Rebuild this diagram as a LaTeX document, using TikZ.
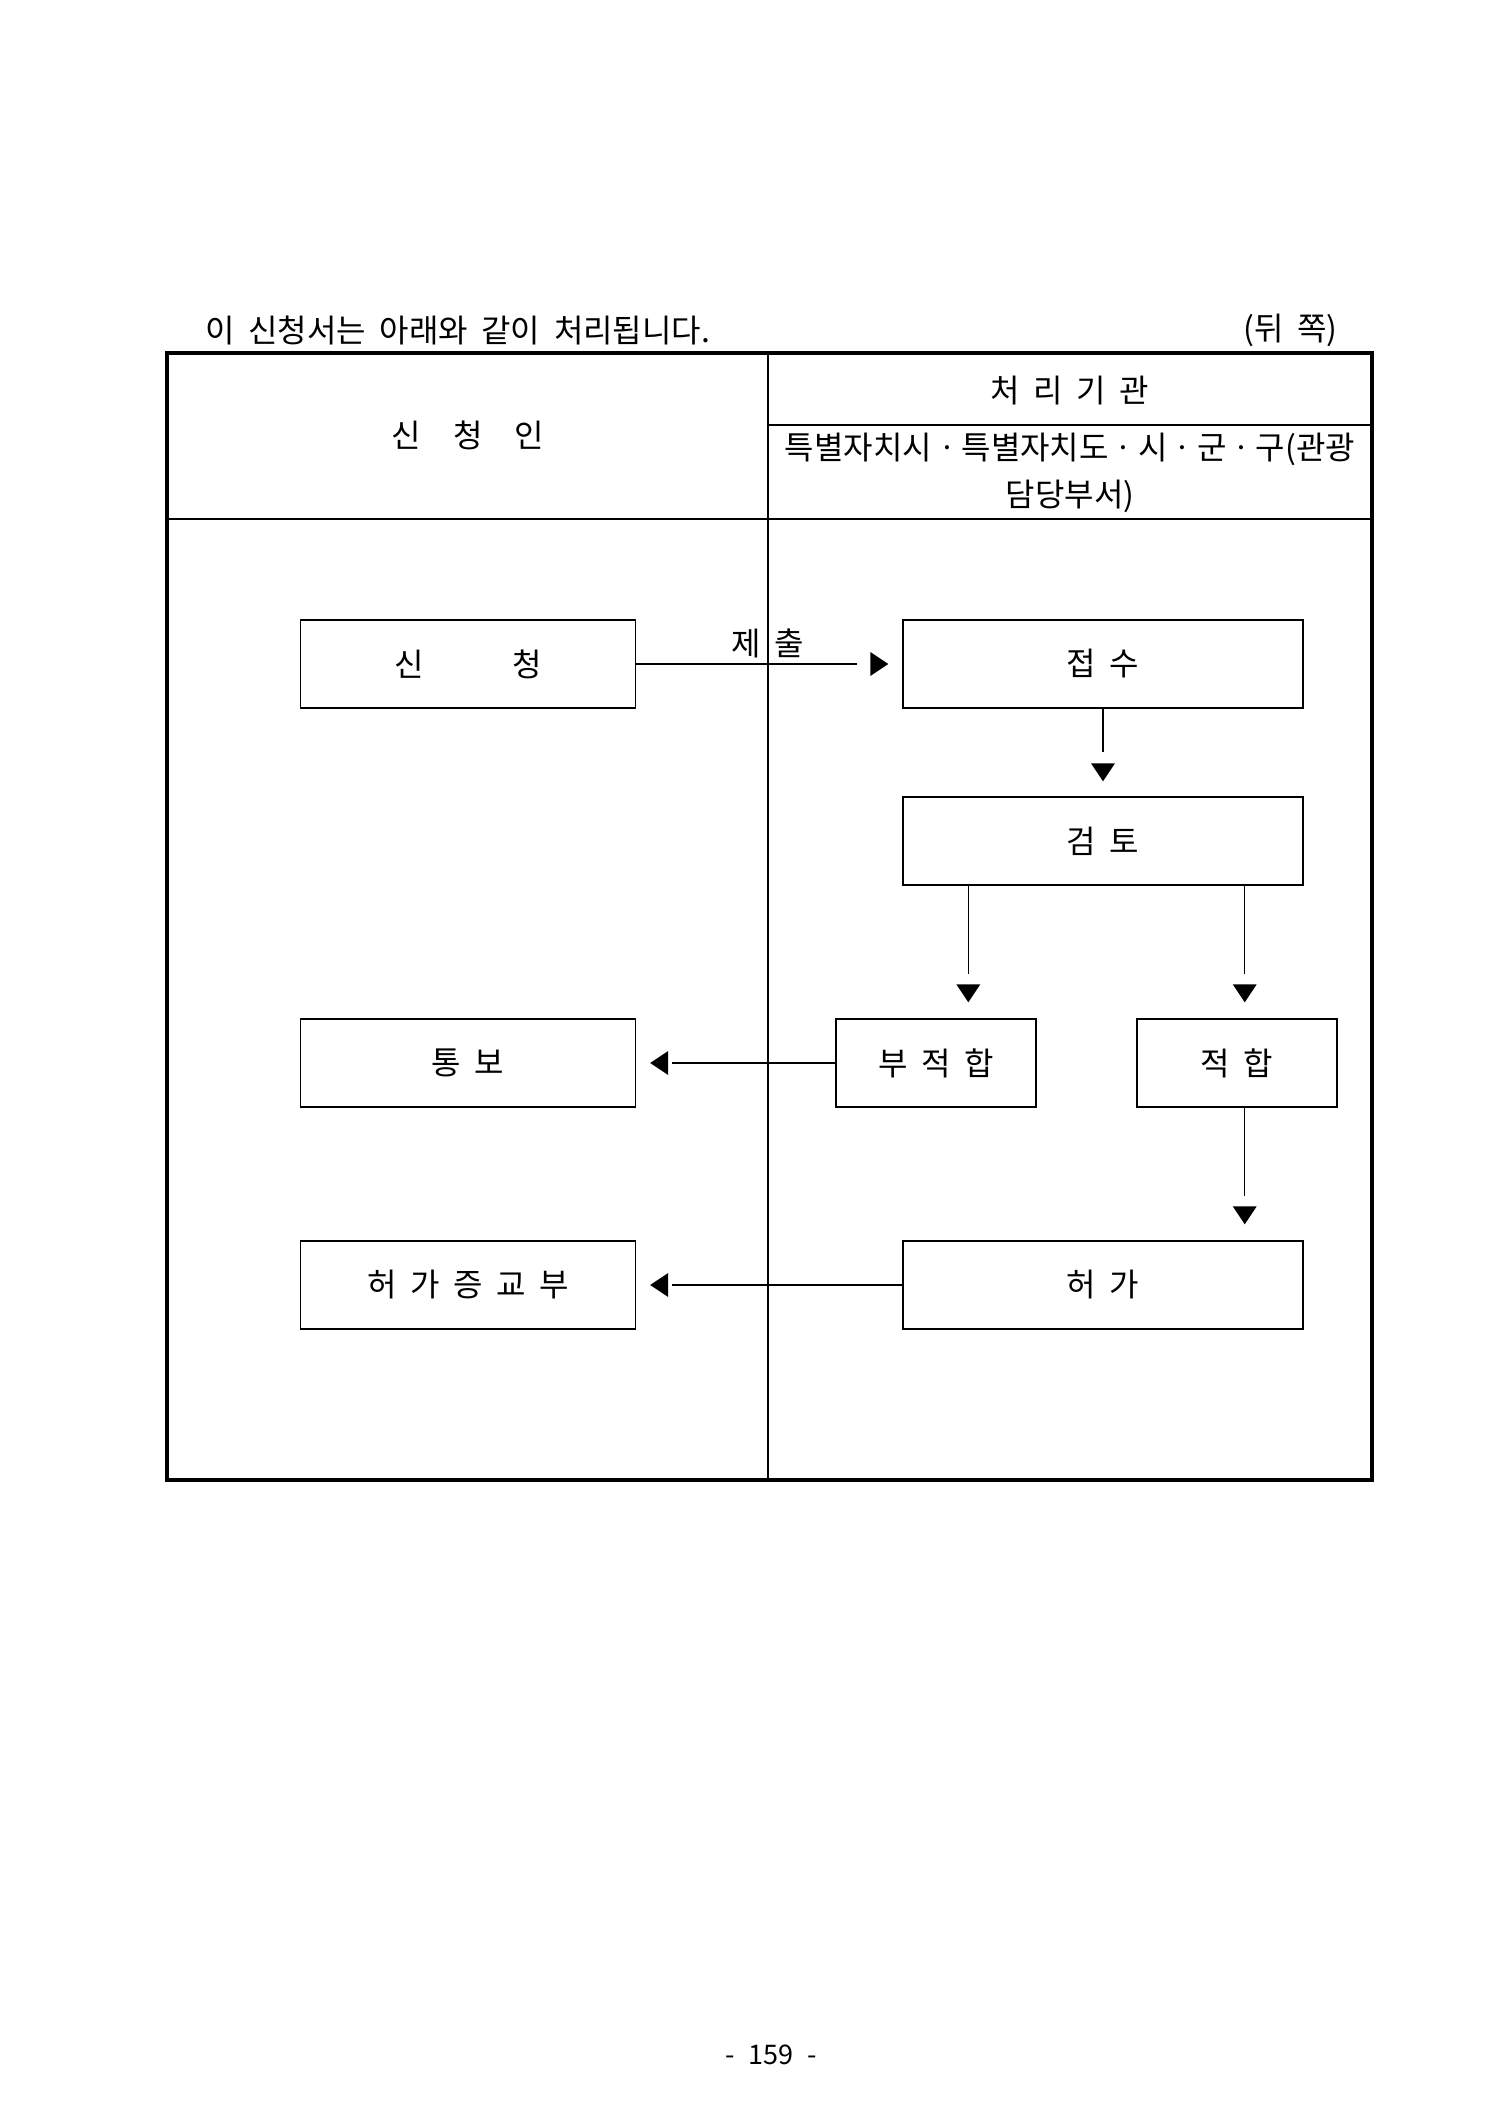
\documentclass[tikz,border=0pt]{standalone}
\usepackage{fontspec}
\setmainfont{Noto Sans CJK KR}[WordSpace=1.9]
\begin{document}
\begin{tikzpicture}[x=1pt,y=-1pt,
  txt/.style={font=\fontsize{32}{38}\selectfont, inner sep=0pt},
  box/.style={draw, line width=1.4pt, minimum height=88pt, inner sep=0pt, font=\fontsize{32}{38}\selectfont},
  conn/.style={line width=1.3pt},
  tipR/.pic={\fill (0pt,0pt) -- (-18pt,12pt) -- (-18pt,-12pt) -- cycle;},
  tipL/.pic={\fill (0pt,0pt) -- (18pt,12pt) -- (18pt,-12pt) -- cycle;},
  tipD/.pic={\fill (0pt,0pt) -- (-12pt,18pt) -- (12pt,18pt) -- cycle;}
]
\useasboundingbox (0,0) rectangle (1500,2114);
% title
\node[txt, anchor=west] (title) at (205,330) {이 신청서는 아래와 같이 처리됩니다.};
\node[txt, anchor=east] (side) at (1338,330) {(뒤 쪽)};
% table
\draw[line width=1.3pt] (768,353) -- (768,1480);
\draw[line width=1.5pt] (768,425) -- (1372,425);
\draw[line width=1.5pt] (167,519) -- (1372,519);
\draw[line width=4pt] (167,353) rectangle (1372,1480);
\node[txt] (h1) at (468,435) {신\hspace{32pt}청\hspace{32pt}인};
\node[txt] (h2) at (1070,391) {처 리 기 관};
\node[txt] (h3) at (1070,449) {특별자치시ㆍ특별자치도ㆍ시ㆍ군ㆍ구(관광};
\node[txt] (h4) at (1070,496) {담당부서)};
% boxes
\node[box, minimum width=335pt] (sincheong) at (468,664) {신\hspace{89pt}청};
\node[box, minimum width=400pt] (jeopsu) at (1103,664) {접 수};
\node[box, minimum width=400pt] (geomto) at (1103,841) {검 토};
\node[box, minimum width=335pt] (tongbo) at (468,1063) {통 보};
\node[box, minimum width=200pt] (bujeok) at (936,1063) {부 적 합};
\node[box, minimum width=200pt] (jeokhap) at (1237,1063) {적 합};
\node[box, minimum width=335pt] (heogajeung) at (468,1285) {허 가 증 교 부};
\node[box, minimum width=400pt] (heoga) at (1103,1285) {허 가};
% connectors
\draw[conn, shorten >=45pt] (sincheong.east) -- (jeopsu.west);
\pic at ([xshift=-14pt]jeopsu.west) {tipR};
\node[txt] (jechul) at (768,643) {제 출};

\draw[conn, shorten >=44pt] (jeopsu.south) -- (geomto.north);
\pic at ([yshift=15pt]geomto.north) {tipD};

\coordinate (ca) at ([xshift=66pt]geomto.south west);
\coordinate (cb) at ([xshift=-59pt]geomto.south east);
\draw[conn, shorten >=44pt] (ca) -- (ca |- bujeok.north);
\pic at ([yshift=16pt]ca |- bujeok.north) {tipD};
\draw[conn, shorten >=44pt] (cb) -- (cb |- jeokhap.north);
\pic at ([yshift=16pt]cb |- jeokhap.north) {tipD};

\draw[conn, shorten >=44pt] (cb |- jeokhap.south) -- (cb |- heoga.north);
\pic at ([yshift=16pt]cb |- heoga.north) {tipD};

\draw[conn, shorten >=36pt] (bujeok.west) -- (tongbo.east);
\pic at ([xshift=14pt]tongbo.east) {tipL};
\draw[conn, shorten >=36pt] (heoga.west) -- (heogajeung.east);
\pic at ([xshift=14pt]heogajeung.east) {tipL};
% page number
\node[font=\fontsize{27}{32}\selectfont, inner sep=0pt] (page) at (771,2055) {-\hspace{14pt}159\hspace{14pt}-};
\end{tikzpicture}
\end{document}
